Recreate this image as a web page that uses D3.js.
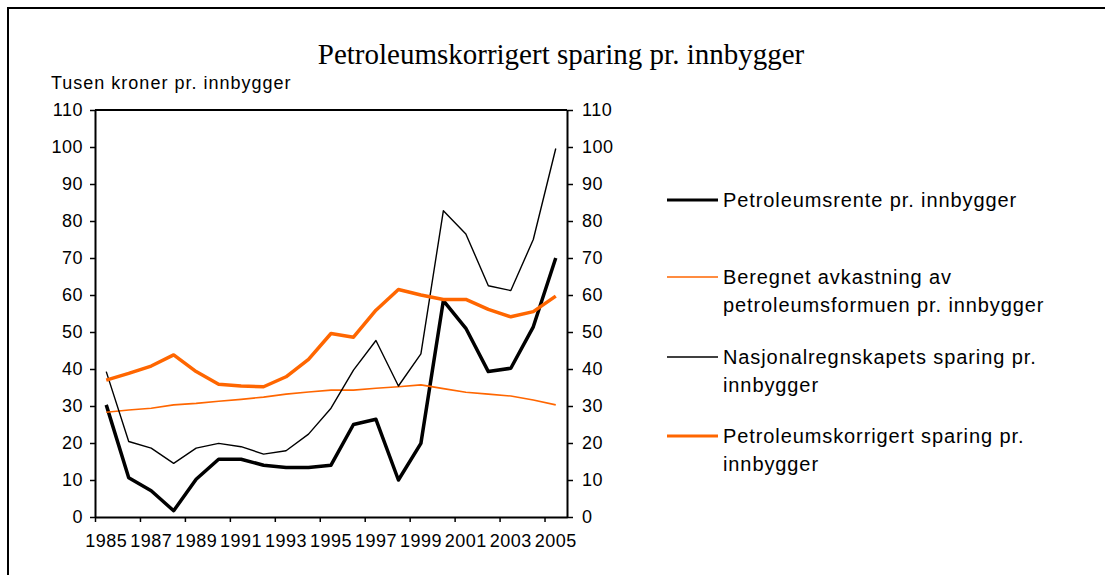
<!DOCTYPE html>
<html>
<head>
<meta charset="utf-8">
<script src="https://cdn.jsdelivr.net/npm/d3@7"></script>
<style>
  body { margin: 0; background: #fff; }
  text { font-family: "Liberation Sans", Arial, sans-serif; }
</style>
</head>
<body>
<div class="content"></div>
<script>
const years = d3.range(1985, 2006);
const xLabels = years.filter((d, i) => i % 2 === 0);
const yTicks = d3.range(0, 111, 10);

const petroleumsrente = [30.3, 10.6, 7.1, 1.7, 10.2, 15.6, 15.6, 14.0, 13.4, 13.4, 14.0,
  25.0, 26.4, 10.0, 19.9, 58.5, 51.0, 39.3, 40.2, 51.4, 70.0];
const avkastning = [28.3, 28.9, 29.4, 30.3, 30.7, 31.3, 31.8, 32.4, 33.2, 33.8, 34.3,
  34.3, 34.8, 35.2, 35.7, 34.7, 33.7, 33.2, 32.7, 31.6, 30.3];
const nasjonalregnskap = [39.3, 20.4, 18.6, 14.5, 18.6, 19.9, 19.0, 17.0, 17.9, 22.4, 29.4,
  39.7, 47.7, 35.4, 44.1, 82.8, 76.5, 62.5, 61.2, 75.0, 99.6];
const korrigert = [37.0, 38.8, 40.8, 43.8, 39.3, 35.9, 35.4, 35.2, 37.9, 42.6, 49.6,
  48.6, 55.9, 61.5, 60.0, 58.8, 58.8, 56.1, 54.1, 55.5, 59.7];

const series = [
  { name: ['Petroleumsrente pr. innbygger'], values: petroleumsrente, color: '#000', width: 3.5 },
  { name: ['Beregnet avkastning av', 'petroleumsformuen pr. innbygger'], values: avkastning, color: '#ff6600', width: 1.6 },
  { name: ['Nasjonalregnskapets sparing pr.', 'innbygger'], values: nasjonalregnskap, color: '#000', width: 1.4 },
  { name: ['Petroleumskorrigert sparing pr.', 'innbygger'], values: korrigert, color: '#ff6600', width: 3.5 }
];

const W = 1105, H = 575;
const plotLeft = 95, plotRight = 567, plotTop = 110, plotBottom = 517;

const svg = d3.select('div.content')
  .append('svg')
  .attr('width', W)
  .attr('height', H);

// outer frame
svg.append('rect')
  .attr('x', 8).attr('y', 8)
  .attr('width', 1200).attr('height', 700)
  .attr('fill', 'none')
  .attr('stroke', '#000')
  .attr('stroke-width', 2);

svg.append('text')
  .attr('x', 561).attr('y', 64)
  .attr('text-anchor', 'middle')
  .style('font-family', '"Liberation Serif", "Times New Roman", serif')
  .style('font-size', '29px')
  .text('Petroleumskorrigert sparing pr. innbygger');

svg.append('text')
  .attr('x', 51).attr('y', 89)
  .style('font-size', '18px')
  .style('letter-spacing', '1px')
  .text('Tusen kroner pr. innbygger');

const x = d3.scaleBand().domain(years).range([plotLeft, plotRight]).padding(0);
const xEdge = d3.scaleLinear().domain([0, years.length]).range([plotLeft, plotRight]);
const y = d3.scaleLinear().domain([0, 110]).range([plotBottom, plotTop]);

// top border of plot area
svg.append('line')
  .attr('x1', plotLeft).attr('x2', plotRight)
  .attr('y1', plotTop).attr('y2', plotTop)
  .attr('stroke', '#000').attr('stroke-width', 2);

const styleAxis = (g) => {
  g.select('.domain').attr('stroke-width', 2);
  g.selectAll('.tick line').attr('stroke-width', 1.5);
  g.selectAll('.tick text')
    .style('font-size', '18px')
    .style('letter-spacing', '0.5px')
    .attr('fill', '#000');
};

svg.append('g')
  .attr('transform', `translate(${plotLeft},0)`)
  .call(d3.axisLeft(y).tickValues(yTicks).tickSize(5).tickSizeOuter(0).tickPadding(7))
  .call(styleAxis);

svg.append('g')
  .attr('transform', `translate(${plotRight},0)`)
  .call(d3.axisRight(y).tickValues(yTicks).tickSize(6).tickSizeOuter(0).tickPadding(9))
  .call(styleAxis);

svg.append('g')
  .attr('transform', `translate(0,${plotBottom})`)
  .call(d3.axisBottom(xEdge).tickValues(d3.range(0, years.length, 2)).tickFormat('').tickSize(5).tickSizeOuter(0))
  .call(styleAxis);

svg.append('g')
  .attr('transform', `translate(0,${plotBottom})`)
  .call(d3.axisBottom(x).tickValues(xLabels).tickSize(0).tickPadding(17))
  .call((g) => g.select('.domain').remove())
  .call(styleAxis);

const line = d3.line()
  .x((d, i) => x(years[i]) + x.bandwidth() / 2)
  .y((d) => y(d));

svg.selectAll('path.series')
  .data(series)
  .enter()
  .append('path')
  .attr('class', 'series')
  .attr('d', (d) => line(d.values))
  .attr('fill', 'none')
  .attr('stroke', (d) => d.color)
  .attr('stroke-width', (d) => d.width)
  .attr('stroke-linejoin', 'round');

// legend
const legendY = [200, 277, 357, 436];
const legend = svg.selectAll('g.legend')
  .data(series)
  .enter()
  .append('g')
  .attr('class', 'legend')
  .attr('transform', (d, i) => `translate(667,${legendY[i]})`);

legend.append('line')
  .attr('x1', 0).attr('x2', 51)
  .attr('stroke', (d) => d.color)
  .attr('stroke-width', (d) => d.width === 3.5 ? 3 : 1.5);

legend.each(function (d) {
  d3.select(this).selectAll('text')
    .data(d.name)
    .enter()
    .append('text')
    .attr('x', 56)
    .attr('y', (t, j) => j * 28)
    .attr('dy', '0.35em')
    .style('font-size', '20px')
    .style('letter-spacing', '0.9px')
    .text((t) => t);
});
</script>
</body>
</html>
